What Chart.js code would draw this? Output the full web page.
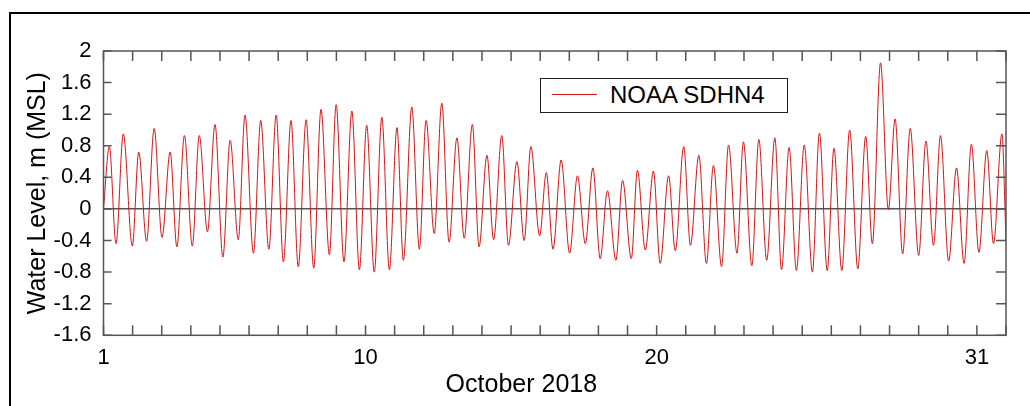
<!DOCTYPE html>
<html>
<head>
<meta charset="utf-8">
<script src="https://cdn.jsdelivr.net/npm/chart.js@4.4.0/dist/chart.umd.min.js"></script>
<style>
    html, body { margin: 0; padding: 0; background: #fff; overflow: hidden; }
    #wrap { position: relative; width: 1030px; height: 406px; }
    #frame { position: absolute; left: 9px; top: 12px; width: 1100px; height: 500px;
             border: 2px solid #000; box-sizing: border-box; pointer-events: none; }
    #legend { position: absolute; left: 540px; top: 78px; width: 248px; height: 35px;
              border: 1.5px solid #222; box-sizing: border-box; background: #fff;
              font: 24px "Liberation Sans", Arial, sans-serif; color: #000; }
    #legend .swatch { position: absolute; left: 11px; top: 15px; width: 45px; height: 0;
                      border-top: 1px solid; }
    #legend .lbl { position: absolute; left: 69px; top: 0; line-height: 31px; white-space: nowrap; }
</style>
</head>
<body>
<div id="wrap">
    <canvas id="tideChart" width="1030" height="406"></canvas>
    <div id="frame"></div>
    <div id="legend"></div>
</div>
<script>
// time of each turning point, days of October 2018 (1.0 = Oct 1 00:00)
const tideDays = [
    1.00, 1.20, 1.43, 1.68, 1.99, 2.21, 2.48, 2.74, 3.01, 3.29,
    3.52, 3.78, 4.05, 4.29, 4.57, 4.83, 5.10, 5.35, 5.63, 5.86,
    6.15, 6.40, 6.68, 6.93, 7.18, 7.44, 7.69, 7.96, 8.22, 8.47,
    8.76, 8.99, 9.26, 9.53, 9.79, 10.04, 10.30, 10.56, 10.82, 11.08,
    11.30, 11.59, 11.85, 12.08, 12.36, 12.62, 12.87, 13.14, 13.39, 13.67,
    13.90, 14.17, 14.40, 14.68, 14.91, 15.20, 15.45, 15.68, 15.98, 16.21,
    16.44, 16.72, 17.01, 17.28, 17.55, 17.81, 18.06, 18.31, 18.60, 18.83,
    19.13, 19.34, 19.61, 19.89, 20.12, 20.41, 20.64, 20.93, 21.16, 21.45,
    21.71, 21.95, 22.23, 22.47, 22.76, 22.98, 23.27, 23.51, 23.78, 24.06,
    24.29, 24.55, 24.80, 25.07, 25.35, 25.59, 25.86, 26.09, 26.36, 26.63,
    26.91, 27.18, 27.41, 27.69, 27.96, 28.19, 28.45, 28.71, 29.00, 29.25,
    29.51, 29.75, 30.03, 30.30, 30.56, 30.81, 31.07, 31.34, 31.57, 31.86,
    32.00
];
// water level at those times, m (MSL)
const tideLevels = [
    0.00, 0.79, -0.44, 0.95, -0.47, 0.72, -0.41, 1.02, -0.36, 0.72,
    -0.48, 0.93, -0.47, 0.93, -0.29, 1.07, -0.61, 0.87, -0.39, 1.19,
    -0.56, 1.12, -0.51, 1.19, -0.67, 1.12, -0.73, 1.13, -0.75, 1.26,
    -0.58, 1.32, -0.67, 1.24, -0.77, 1.06, -0.80, 1.16, -0.77, 1.03,
    -0.65, 1.29, -0.51, 1.12, -0.31, 1.34, -0.42, 0.90, -0.37, 1.07,
    -0.48, 0.68, -0.39, 0.93, -0.46, 0.60, -0.40, 0.79, -0.34, 0.46,
    -0.51, 0.62, -0.56, 0.42, -0.44, 0.52, -0.63, 0.23, -0.65, 0.36,
    -0.63, 0.49, -0.52, 0.48, -0.69, 0.42, -0.53, 0.79, -0.46, 0.68,
    -0.69, 0.55, -0.73, 0.81, -0.56, 0.85, -0.72, 0.88, -0.65, 0.90,
    -0.77, 0.78, -0.78, 0.81, -0.80, 0.96, -0.78, 0.77, -0.78, 1.00,
    -0.76, 0.92, -0.44, 1.85, -0.01, 1.14, -0.57, 1.02, -0.59, 0.86,
    -0.46, 0.93, -0.66, 0.52, -0.69, 0.82, -0.55, 0.74, -0.44, 0.95,
    -0.40
];
const dayLabels = [1, 10, 20, 31];
const seriesName = 'NOAA SDHN4';
const xTitle = 'October 2018';
const yTitle = 'Water Level, m (MSL)';

const fontFamily = '"Liberation Sans", Arial, sans-serif';
const axisColor = '#555';

// axis box, inward ticks on all four sides, and the x title
const frameTicks = {
    id: 'frameTicks',
    afterDraw(chart) {
        const {ctx, chartArea: a, scales: {x, y}} = chart;
        ctx.save();
        ctx.strokeStyle = axisColor;
        ctx.lineWidth = 1.5;
        ctx.beginPath();
        x.ticks.forEach(t => {
            const px = x.getPixelForValue(t.value);
            ctx.moveTo(px, a.top);
            ctx.lineTo(px, a.top + 10);
            ctx.moveTo(px, a.bottom);
            ctx.lineTo(px, a.bottom - 10);
        });
        y.ticks.forEach(t => {
            const py = y.getPixelForValue(t.value);
            ctx.moveTo(a.left, py);
            ctx.lineTo(a.left + 8, py);
            ctx.moveTo(a.right, py);
            ctx.lineTo(a.right - 10, py);
        });
        ctx.stroke();
        ctx.strokeRect(a.left, a.top, a.width, a.height);

        ctx.fillStyle = '#000';
        ctx.font = '25px ' + fontFamily;
        ctx.textAlign = 'center';
        ctx.textBaseline = 'middle';
        ctx.fillText(xTitle, a.left + a.width * 0.463, a.bottom + 50);
        ctx.restore();
    }
};

const points = tideDays.map((d, i) => ({x: d, y: tideLevels[i]}));

const chart = new Chart(document.getElementById('tideChart'), {
    type: 'line',
    data: {
        datasets: [{
            label: seriesName,
            data: points,
            borderColor: 'rgb(212, 20, 20)',
            borderWidth: 1,
            pointRadius: 0,
            fill: false,
            cubicInterpolationMode: 'monotone',
        }]
    },
    options: {
        responsive: false,
        animation: false,
        layout: {padding: {left: 0, top: 51, right: 24, bottom: 0}},
        plugins: {
            legend: {display: false},
            tooltip: {enabled: false},
        },
        scales: {
            x: {
                type: 'linear',
                min: 1,
                max: 32,
                afterFit(s) { s.height = 70.7; },
                grid: {display: false, drawTicks: false},
                border: {display: false},
                ticks: {
                    stepSize: 1,
                    autoSkip: false,
                    maxRotation: 0,
                    padding: 9,
                    color: '#000',
                    font: {family: fontFamily, size: 22},
                    callback: v => dayLabels.includes(v) ? String(v) : '',
                },
            },
            y: {
                min: -1.6,
                max: 2,
                afterFit(s) { s.width = 103.5; },
                grid: {
                    drawTicks: false,
                    lineWidth: 1.5,
                    color: c => Math.abs(c.tick.value) < 1e-6 ? axisColor : 'rgba(0,0,0,0)',
                },
                border: {display: false},
                ticks: {
                    stepSize: 0.4,
                    padding: 12,
                    color: '#000',
                    font: {family: fontFamily, size: 22},
                    callback: v => String(Math.round(v * 10) / 10),
                },
                title: {
                    display: true,
                    text: yTitle,
                    color: '#000',
                    font: {family: fontFamily, size: 25, lineHeight: 1.2},
                    padding: {top: 23, bottom: 0},
                },
            },
        },
    },
    plugins: [frameTicks],
});

// legend box built from the dataset
const legendBox = document.getElementById('legend');
chart.data.datasets.forEach(ds => {
    legendBox.innerHTML = '<span class="swatch" style="border-top-color:' + ds.borderColor + '"></span>' +
        '<span class="lbl">' + ds.label + '</span>';
});
</script>
</body>
</html>
